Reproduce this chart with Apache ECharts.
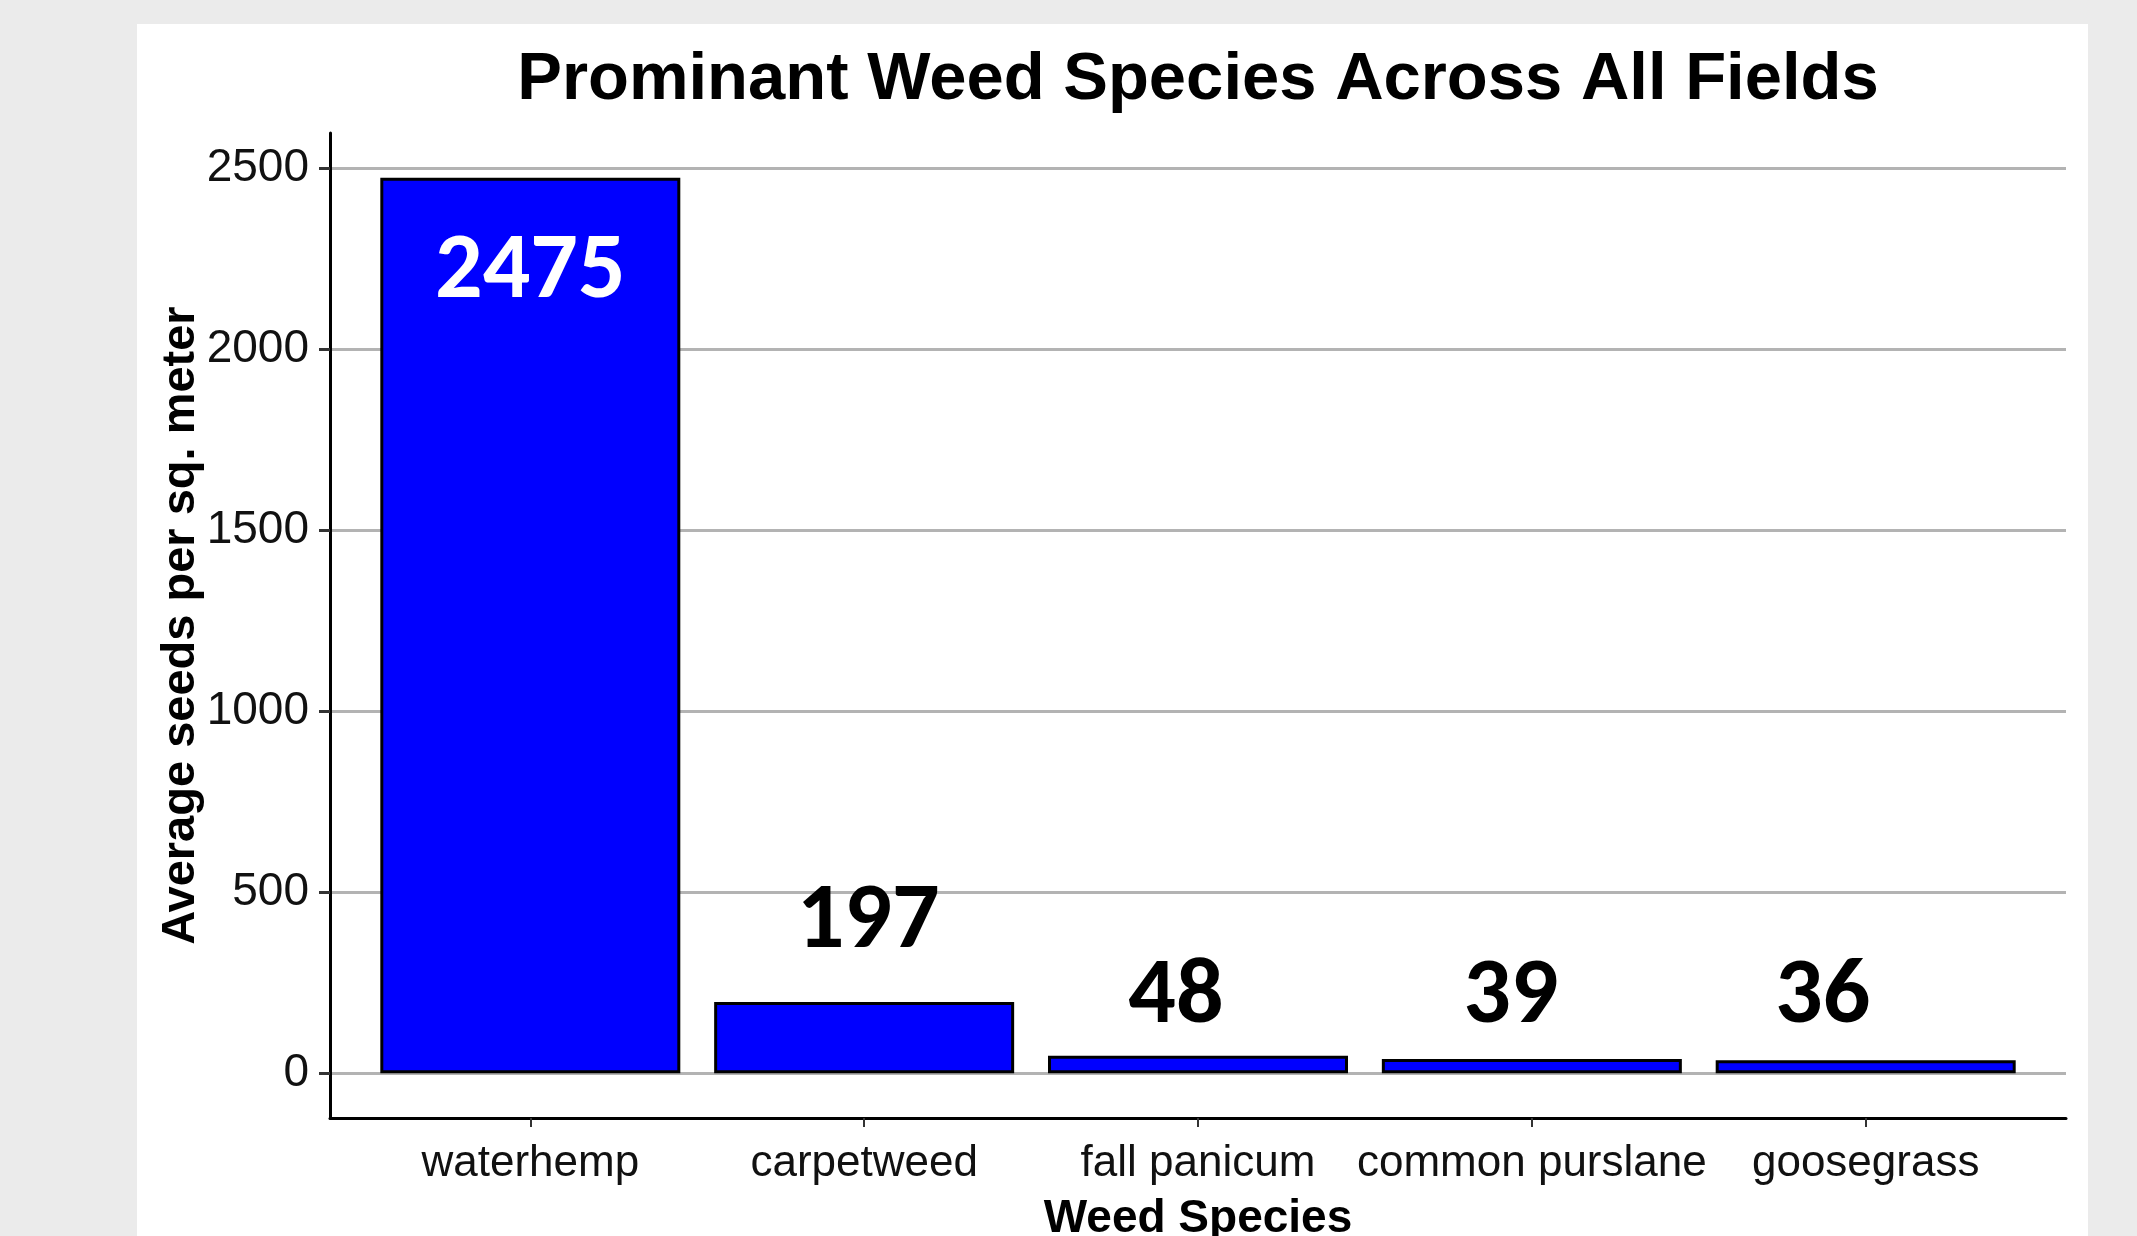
<!DOCTYPE html>
<html>
<head>
<meta charset="utf-8">
<title>Prominant Weed Species</title>
<script src="https://cdn.jsdelivr.net/npm/echarts@6/dist/echarts.min.js"></script>
<style>
  html, body { margin: 0; padding: 0; background: #ebebeb; }
  #bar-chart { width: 2137px; height: 1236px; }
</style>
</head>
<body>
<div id="bar-chart"></div>
<script>
// data
const species = ["waterhemp", "carpetweed", "fall panicum", "common purslane", "goosegrass"];
const seeds = [2475, 197, 48, 39, 36];
const yTicks = [0, 500, 1000, 1500, 2000, 2500];

const barChart = echarts.init(document.getElementById("bar-chart"));

// where each value label sits relative to its bar (px)
const labelDistance = [49, 31, 10, 14, 15];
const labelShift = [0, 4, -22, -21, -43];

const seriesData = seeds.map((v, i) => ({
  value: [i + 1, v],
  label: {
    position: i === 0 ? "insideTop" : "top",
    distance: labelDistance[i],
    offset: [labelShift[i], 0],
    color: i === 0 ? "#fff" : "#000",
  },
}));

const option = {
  backgroundColor: "#ebebeb",
  animation: false,
  graphic: [
    {
      type: "rect",
      z: -10,
      shape: { x: 137, y: 24, width: 1951, height: 1212 },
      style: { fill: "#fff" },
    },
  ],
  title: {
    text: "Prominant Weed Species Across All Fields",
    left: 1198,
    top: 47,
    padding: 0,
    textAlign: "center",
    textStyle: {
      color: "#000",
      fontFamily: "Liberation Sans, Arial",
      fontSize: 67,
      fontWeight: "bold",
      lineHeight: 67,
    },
  },
  grid: {
    left: 330,
    right: 71,
    top: 133,
    bottom: 118,
    outerBoundsMode: "none",
  },
  xAxis: {
    type: "value",
    min: 0.4,
    max: 5.6,
    name: "Weed Species",
    nameLocation: "middle",
    nameGap: 78,
    nameMoveOverlap: false,
    nameTextStyle: {
      color: "#000",
      fontFamily: "Liberation Sans, Arial",
      fontSize: 46,
      fontWeight: "bold",
      lineHeight: 46,
    },
    axisLine: { show: true, onZero: false, lineStyle: { color: "#000", width: 3 } },
    axisTick: {
      show: true,
      length: 9,
      customValues: species.map((s, i) => i + 1),
      lineStyle: { color: "#333", width: 2 },
    },
    axisLabel: {
      customValues: species.map((s, i) => i + 1),
      formatter: (v) => species[Math.round(v) - 1],
      margin: 24,
      color: "#111",
      fontFamily: "Liberation Sans, Arial",
      fontSize: 44,
      lineHeight: 44,
    },
    splitLine: { show: false },
  },
  yAxis: {
    type: "value",
    min: -123.75,
    max: 2598.75,
    name: "Average seeds per sq. meter",
    nameLocation: "middle",
    nameGap: 125,
    nameMoveOverlap: false,
    nameTextStyle: {
      color: "#000",
      fontFamily: "Liberation Sans, Arial",
      fontSize: 47,
      fontWeight: "bold",
      lineHeight: 47,
    },
    axisLine: { show: true, onZero: false, lineStyle: { color: "#000", width: 3 } },
    axisTick: {
      show: true,
      length: 11,
      customValues: yTicks,
      lineStyle: { color: "#333", width: 3 },
    },
    axisLabel: {
      customValues: yTicks,
      formatter: (v) => String(v),
      margin: 21,
      color: "#111",
      fontFamily: "Liberation Sans, Arial",
      fontSize: 46,
    },
    splitLine: {
      show: true,
      lineStyle: { color: "#b3b3b3", width: 3 },
    },
  },
  series: [
    {
      type: "bar",
      barWidth: 300,
      data: seriesData,
      itemStyle: {
        color: "#0000ff",
        borderColor: "#000",
        borderWidth: 3,
      },
      label: {
        show: true,
        formatter: (p) => p.value[1],
        fontFamily: "Carlito, Lato, sans-serif",
        fontWeight: "bold",
        fontSize: 94,
        lineHeight: 94,
      },
    },
  ],
};

barChart.setOption(option);
</script>
</body>
</html>
